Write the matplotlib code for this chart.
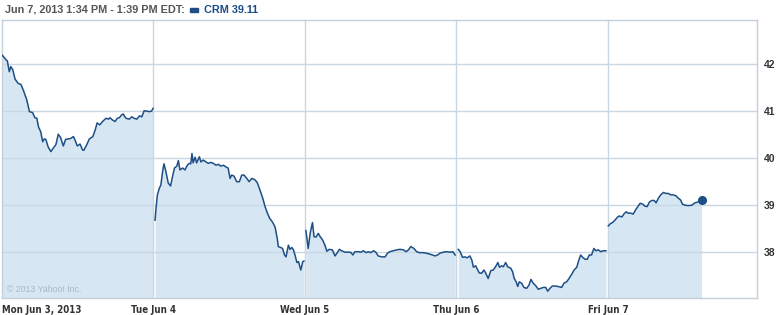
import matplotlib
matplotlib.use("Agg")
import matplotlib.pyplot as plt
import numpy as np

# ---- data (minutes since 9:30 open, price) ----
day_labels = ["Mon Jun 3, 2013", "Tue Jun 4", "Wed Jun 5", "Thu Jun 6", "Fri Jun 7"]
y_ticks = [38, 39, 40, 41, 42]

mon_t = [2, 12, 15, 20, 24, 29, 35, 43, 50, 56, 65, 72, 80, 86, 91, 95, 101, 106, 110, 114,
         120, 127, 133, 140, 146, 152, 159, 165, 172, 178, 185, 189, 195, 202, 209, 212, 219, 226, 235, 241,
         246, 253, 260, 269, 275, 279, 286, 292, 298, 303, 309, 313, 320, 329, 335, 341, 348, 355, 361, 367,
         374, 380, 386, 390]
mon_p = [42.18, 42.08, 42.06, 41.83, 41.94, 41.87, 41.67, 41.58, 41.56, 41.44, 41.23, 40.98, 40.96, 40.85, 40.84, 40.66, 40.55, 40.34, 40.40, 40.39,
         40.23, 40.13, 40.20, 40.28, 40.50, 40.43, 40.25, 40.39, 40.40, 40.41, 40.45, 40.38, 40.25, 40.29, 40.16, 40.16, 40.27, 40.40, 40.45, 40.59,
         40.74, 40.70, 40.77, 40.84, 40.82, 40.85, 40.80, 40.77, 40.84, 40.85, 40.91, 40.93, 40.84, 40.82, 40.87, 40.84, 40.82, 40.89, 40.87, 41.00,
         40.99, 40.98, 40.99, 41.05]

tue_t = [5, 8, 11, 16, 20, 25, 28, 33, 39, 45, 50, 55, 61, 65, 69, 76, 82, 88, 93, 97,
         100, 103, 108, 112, 119, 123, 129, 136, 142, 148, 155, 162, 168, 174, 181, 188, 193, 198, 202, 208,
         215, 222, 228, 234, 241, 247, 254, 262, 268, 275, 282, 288, 294, 300, 308, 314, 320, 322, 328, 333,
         338, 342, 348, 352, 357, 361, 365, 370, 374, 380, 385, 388]
tue_p = [38.67, 38.96, 39.21, 39.35, 39.42, 39.74, 39.87, 39.70, 39.46, 39.40, 39.60, 39.78, 39.82, 39.94, 39.74, 39.78, 39.74, 39.84, 39.88, 39.87,
         40.09, 39.89, 40.01, 39.89, 40.02, 39.91, 39.95, 39.91, 39.88, 39.90, 39.88, 39.84, 39.86, 39.82, 39.84, 39.80, 39.78, 39.56, 39.63, 39.61,
         39.49, 39.49, 39.63, 39.63, 39.56, 39.49, 39.56, 39.53, 39.47, 39.31, 39.14, 38.96, 38.82, 38.71, 38.62, 38.52, 38.25, 38.11, 38.09, 38.07,
         37.93, 37.89, 38.14, 38.05, 38.09, 38.04, 37.93, 37.77, 37.79, 37.61, 37.79, 37.80]

wed_t = [3, 9, 14, 20, 24, 29, 35, 39, 46, 52, 57, 63, 71, 78, 84, 89, 95, 104, 112, 118,
         124, 129, 138, 145, 151, 158, 164, 170, 177, 183, 189, 198, 207, 213, 219, 228, 237, 245, 254, 261,
         267, 273, 281, 288, 295, 304, 312, 321, 329, 335, 342, 348, 357, 365, 374, 381, 387]
wed_p = [38.45, 38.07, 38.39, 38.62, 38.32, 38.31, 38.39, 38.33, 38.25, 38.14, 38.01, 38.05, 38.04, 37.91, 37.98, 38.05, 38.02, 37.99, 37.99, 37.99,
         37.93, 38.00, 38.00, 37.99, 38.02, 37.98, 38.00, 37.98, 38.02, 37.99, 37.91, 37.89, 37.89, 37.97, 38.00, 38.02, 38.04, 38.05, 38.04, 38.00,
         38.04, 38.11, 38.07, 38.00, 37.98, 37.98, 37.97, 37.95, 37.93, 37.91, 37.93, 37.97, 37.99, 38.00, 37.99, 38.00, 37.93]

thu_t = [5, 10, 16, 22, 28, 35, 40, 44, 50, 54, 59, 65, 71, 76, 82, 89, 95, 101, 107, 111,
         117, 121, 127, 132, 140, 145, 149, 154, 158, 162, 168, 174, 181, 187, 192, 198, 205, 211, 217, 224,
         230, 235, 241, 247, 254, 262, 271, 277, 284, 290, 297, 303, 310, 314, 320, 325, 331, 337, 342, 348,
         354, 359, 365, 372, 378, 385]
thu_p = [38.05, 38.00, 37.88, 37.89, 37.87, 37.91, 37.82, 37.67, 37.70, 37.63, 37.55, 37.54, 37.61, 37.54, 37.43, 37.60, 37.61, 37.68, 37.77, 37.67,
         37.70, 37.68, 37.77, 37.68, 37.65, 37.57, 37.43, 37.36, 37.26, 37.36, 37.33, 37.24, 37.22, 37.29, 37.41, 37.33, 37.27, 37.20, 37.22, 37.24,
         37.24, 37.16, 37.22, 37.27, 37.27, 37.26, 37.24, 37.33, 37.36, 37.43, 37.52, 37.61, 37.67, 37.79, 37.93, 37.88, 37.84, 37.84, 37.93, 37.93,
         38.07, 38.02, 38.04, 38.00, 38.02, 38.02]

fri_t = [1, 7, 12, 18, 24, 29, 36, 41, 47, 52, 59, 65, 72, 77, 83, 90, 95, 101, 107, 113,
         119, 124, 130, 136, 143, 149, 155, 162, 168, 175, 181, 187, 192, 198, 207, 216, 224, 233, 241]
fri_p = [38.55, 38.60, 38.62, 38.67, 38.73, 38.76, 38.74, 38.80, 38.85, 38.82, 38.82, 38.80, 38.90, 38.96, 39.03, 39.01, 38.97, 38.96, 39.06, 39.09,
         39.09, 39.04, 39.14, 39.21, 39.26, 39.24, 39.24, 39.21, 39.21, 39.19, 39.14, 39.10, 39.01, 38.99, 38.98, 38.99, 39.04, 39.06, 39.11]

days_t = [mon_t, tue_t, wed_t, thu_t, fri_t]
days_p = [mon_p, tue_p, wed_p, thu_p, fri_p]
session_min = 390

# ---- style ----
LINE = "#1d4f86"
FILL = "#d6e6f2"
GRID = "#c9d7e3"
FRAME = "#c2d0dc"

W, H = 779, 315
fig = plt.figure(figsize=(W / 100, H / 100), dpi=100)
fig.patch.set_facecolor("white")

left_px, right_px, top_px, bot_px = 1.5, 757, 20, 298
ax = fig.add_axes([left_px / W, (H - bot_px) / H, (right_px - left_px) / W, (bot_px - top_px) / H])

ymin, ymax = 37.015, 42.93
x_max = (right_px - left_px) * session_min / 151.6
ax.set_xlim(0, x_max)
ax.set_ylim(ymin, ymax)

for i, (t, p) in enumerate(zip(days_t, days_p)):
    x = np.array(t) + i * session_min
    ax.fill_between(x, p, ymin, color=FILL, lw=0, zorder=1)
    ax.plot(x, p, color=LINE, lw=1.1, zorder=4, solid_joinstyle="round")

# end dot
ax.plot(fri_t[-1] + 4 * session_min, fri_p[-1], "o", color=LINE, ms=5.5, zorder=5)

# grid
for yv in y_ticks:
    ax.axhline(yv, color=GRID, lw=1, zorder=2)
for d in range(1, 5):
    ax.axvline(d * session_min, color=GRID, lw=1, zorder=2)

for s in ax.spines.values():
    s.set_color(FRAME)
    s.set_linewidth(1)

ax.yaxis.tick_right()
ax.set_yticks(y_ticks)
ax.set_yticklabels([str(v) for v in y_ticks], fontsize=7.5, fontweight="bold", color="#333333",
                   family=["Liberation Sans", "DejaVu Sans"])
ax.tick_params(axis="y", length=0, pad=5)

ax.set_xticks([d * session_min for d in range(5)])
ax.set_xticklabels(day_labels, fontsize=7, fontweight="bold", color="#333333",
                   family=["DejaVu Sans"], fontstretch="condensed")
ax.tick_params(axis="x", length=0, pad=5)
ax.get_xticklabels()[0].set_horizontalalignment("left")

# header
fig.text(5 / W, 1 - 10 / H, "Jun 7, 2013 1:34 PM - 1:39 PM EDT:", fontsize=7.8, fontweight="bold",
         color="#555555", va="center", ha="left", family=["Liberation Sans", "DejaVu Sans"])
fig.patches.append(plt.Rectangle((190 / W, 1 - 12 / H), 8 / W, 4 / H, transform=fig.transFigure,
                                 color=LINE, figure=fig))
fig.text(204 / W, 1 - 10 / H, "CRM 39.11", fontsize=7.8, fontweight="bold",
         color="#1c4c86", va="center", ha="left", family=["Liberation Sans", "DejaVu Sans"])

# copyright
ax.text(7 / W, 1 - 290 / H, "\u00a9 2013 Yahoo! Inc.", transform=fig.transFigure, fontsize=6.3,
        color="#a9b7c5", va="center", ha="left", zorder=6, family=["Liberation Sans", "DejaVu Sans"])

fig.savefig("out.png", dpi=100)
